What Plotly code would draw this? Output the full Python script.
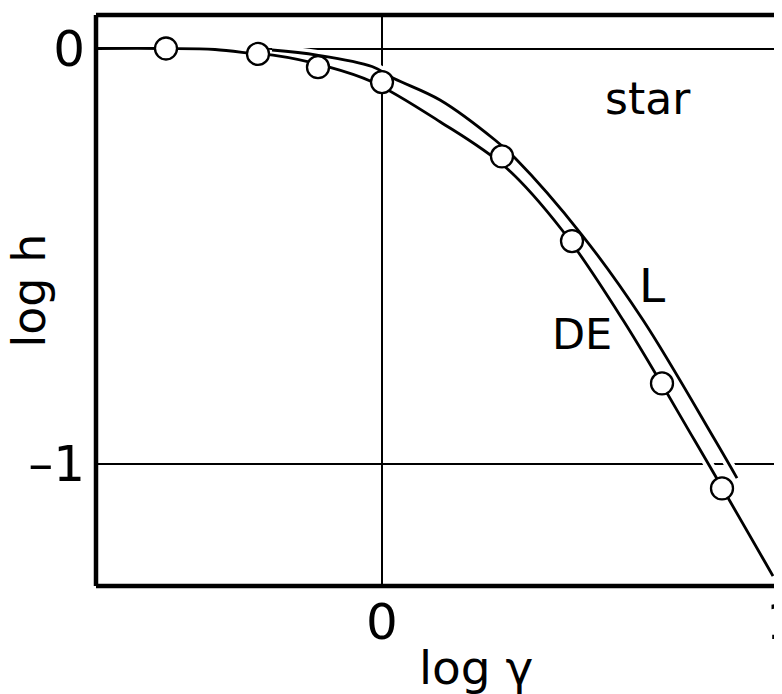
import plotly.graph_objects as go

# measured points (open circles)
pt_x = [-0.54, -0.31, -0.16, 0.0, 0.30, 0.475, 0.70, 0.85]
pt_y = [0.0, -0.013, -0.045, -0.081, -0.26, -0.464, -0.807, -1.06]

# DE curve
de_x = [-0.715, -0.5425, -0.4175, -0.3125, -0.2725, -0.135, -0.025, 0.145, 0.3075, 0.45, 0.6025, 0.7825, 0.9775]
de_y = [0.0, 0.0, -0.0024, -0.0133, -0.016, -0.0439, -0.08, -0.1764, -0.2848, -0.4373, -0.6542, -0.9458, -1.271]

# L curve
l_x = [-0.275, -0.1625, -0.025, 0.03, 0.145, 0.2825, 0.3325, 0.50, 0.6525, 0.8325, 0.8875]
l_y = [-0.0036, -0.0157, -0.0434, -0.0723, -0.1241, -0.2205, -0.2639, -0.4494, -0.6542, -0.9434, -1.035]

x_ticks = [0, 1]
x_ticktext = ["0", "1"]
y_ticks = [0, -1]
y_ticktext = ["0", "\u20131"]

FONT = "DejaVu Sans"

fig = go.Figure()
# white halos (break grid lines where curves cross them)
for xs, ys in [(de_x, de_y), (l_x, l_y)]:
    fig.add_trace(go.Scatter(x=xs, y=ys, mode="lines", line=dict(color="white", width=10, shape="spline"),
                             hoverinfo="skip", showlegend=False))
for xs, ys in [(de_x, de_y), (l_x, l_y)]:
    fig.add_trace(go.Scatter(x=xs, y=ys, mode="lines", line=dict(color="black", width=2.8, shape="spline"),
                             showlegend=False))
fig.add_trace(go.Scatter(x=pt_x, y=pt_y, mode="markers",
                         marker=dict(size=22, color="white", line=dict(color="black", width=2.3)),
                         showlegend=False))

ann = [
    dict(x=0.665, y=-0.12, text="star", font=dict(size=44)),
    dict(x=0.675, y=-0.571, text="L", font=dict(size=47)),
    dict(x=0.5, y=-0.687, text="DE", font=dict(size=43)),
]
annotations = [dict(xref="x", yref="y", showarrow=False, xanchor="center", yanchor="middle", **a) for a in ann]
annotations.append(dict(xref="paper", yref="paper", x=-0.096, y=0.518, text="log h", textangle=-90,
                        showarrow=False, font=dict(size=46), xanchor="center", yanchor="middle"))
annotations.append(dict(xref="paper", yref="paper", x=0.5476, y=-0.143, text="log \u03b3",
                        showarrow=False, font=dict(size=47), xanchor="center", yanchor="middle"))

frame = dict(type="line", xref="paper", yref="paper", line=dict(color="black", width=4.5), layer="above")
shapes = [
    dict(frame, x0=0, x1=0, y0=0, y1=1),
    dict(frame, x0=0, x1=1, y0=1, y1=1),
    dict(frame, x0=0, x1=1, y0=0, y1=0),
]

fig.update_layout(
    width=782, height=694,
    margin=dict(l=88, r=0, t=7, b=116),
    paper_bgcolor="white", plot_bgcolor="white",
    font=dict(family=FONT, color="black"),
    annotations=annotations, shapes=shapes,
    showlegend=False,
)
fig.update_xaxes(range=[-0.715, 1.02], tickvals=x_ticks, ticktext=x_ticktext,
                 showgrid=True, gridcolor="black", gridwidth=2.4, zeroline=False,
                 showline=False, ticks="", tickfont=dict(size=50), ticklabelstandoff=2,
                 ticklabeloverflow="allow", automargin=False)
fig.update_yaxes(range=[-1.295, 0.0807], tickvals=y_ticks, ticktext=y_ticktext,
                 showgrid=True, gridcolor="black", gridwidth=2.4, zeroline=False,
                 showline=False, ticks="", tickfont=dict(size=50), ticklabelstandoff=10,
                 automargin=False)

fig.write_html("out.html")
